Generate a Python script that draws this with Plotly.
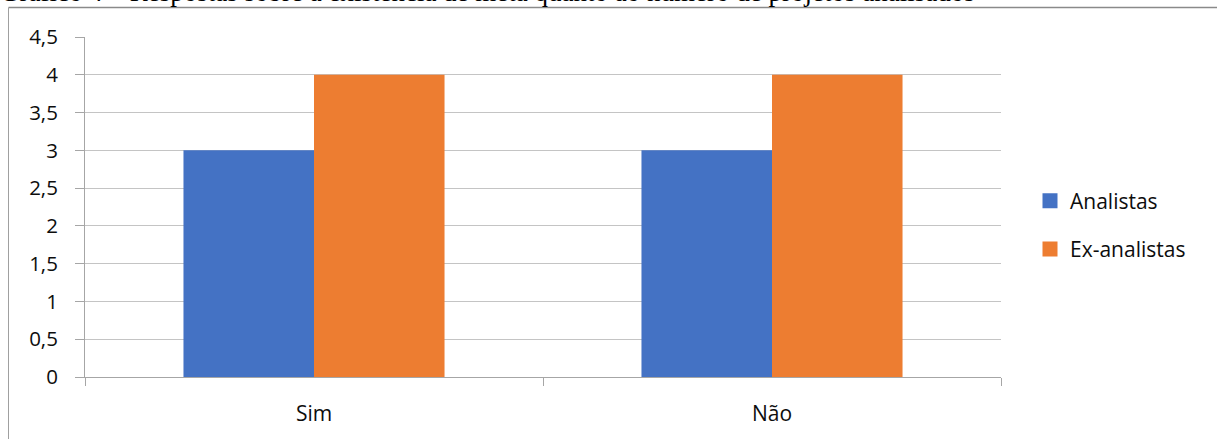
import plotly.graph_objects as go

# Survey answers per group
categories = ["Sim", "Não"]
analistas = [3, 3]
ex_analistas = [4, 4]
series_names = ["Analistas", "Ex-analistas"]
series_colors = ["#4472C4", "#ED7D31"]
y_ticks = [0, 0.5, 1, 1.5, 2, 2.5, 3, 3.5, 4, 4.5]
caption = "Gráfico 4 – Respostas sobre a existência de meta quanto ao número de projetos analisados"

W, H = 1217, 439
L, R, T, B = 85, 216, 37, 62
pw, ph = W - L - R, H - T - B

def px_x(px):
    return (px - L) / pw

def px_y(py):
    return (H - B - py) / ph

font_main = "Open Sans"
text_col = "#0d0d0d"
grid_col = "#c4c4c4"
axis_col = "#a6a6a6"

fig = go.Figure()
for name, vals, col in zip(series_names, [analistas, ex_analistas], series_colors):
    fig.add_trace(go.Bar(x=categories, y=vals, name=name,
                         marker=dict(color=col, line=dict(width=0)),
                         showlegend=False))
# legend keys drawn as larger square swatches
for i, (name, col) in enumerate(zip(series_names, series_colors)):
    fig.add_trace(go.Scatter(x=[None], y=[None], name=name, mode="markers",
                             marker=dict(symbol="square", size=15, color=col),
                             legendgroup=f"g{i}", hoverinfo="skip"))

fig.update_layout(
    width=W, height=H,
    margin=dict(l=L, r=R, t=T, b=B, pad=0),
    paper_bgcolor="white", plot_bgcolor="white",
    separators=", ",
    barmode="group", bargap=0.43, bargroupgap=0,
    font=dict(family=font_main, size=20, color=text_col),
    showlegend=True,
    legend=dict(x=px_x(1030), y=px_y(225), xanchor="left", yanchor="middle",
                font=dict(family=font_main, size=21, color=text_col),
                tracegroupgap=18, bgcolor="rgba(0,0,0,0)", itemwidth=30),
    xaxis=dict(range=[-0.5, 1.5], showline=True, linecolor=axis_col, linewidth=1,
               ticks="outside", tickson="boundaries", ticklen=8, tickcolor=axis_col,
               showgrid=False, tickfont=dict(size=21, family=font_main, color=text_col),
               ticklabelstandoff=18),
    yaxis=dict(range=[0, 4.5], tickvals=y_ticks, showline=True, linecolor=axis_col,
               linewidth=1, ticks="outside", ticklen=9, tickcolor=axis_col,
               showgrid=True, gridcolor=grid_col, gridwidth=1, zeroline=False,
               tickfont=dict(size=20.5, family=font_main, color=text_col),
               ticklabelstandoff=13),
    shapes=[
        dict(type="line", xref="paper", yref="paper", x0=px_x(8.5), x1=px_x(1230),
             y0=px_y(7.5), y1=px_y(7.5), line=dict(color="#8a8a8a", width=1.5)),
        dict(type="line", xref="paper", yref="paper", x0=px_x(8.5), x1=px_x(8.5),
             y0=px_y(7.5), y1=px_y(460), line=dict(color="#a0a0a0", width=1)),
    ],
    annotations=[
        dict(text=caption, xref="paper", yref="paper", x=px_x(-2), y=px_y(9),
             xanchor="left", yanchor="bottom", showarrow=False,
             font=dict(family="Liberation Serif", size=27, color="black")),
    ],
)

fig.write_html("out.html")
